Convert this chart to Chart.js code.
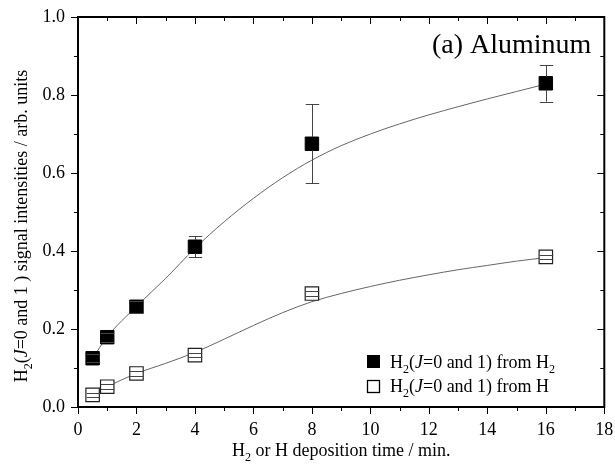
<!DOCTYPE html>
<html>
<head>
<meta charset="utf-8">
<script src="https://cdn.jsdelivr.net/npm/chart.js@4.4.1/dist/chart.umd.min.js"></script>
<style>
    html, body { margin: 0; padding: 0; background: #fff; }
    #wrap { width: 615px; height: 468px; }
</style>
</head>
<body>
<div id="wrap"><canvas id="chart" width="615" height="468"></canvas></div>
<script>
'use strict';

// measured points (deposition time in min)
var depTimes = [0.5, 1, 2, 4, 8, 16];
var fromH2 = [0.125, 0.179, 0.257, 0.411, 0.675, 0.830];
var fromH2Err = [0.010, 0.012, 0.015, 0.027, 0.101, 0.047];
var fromH = [0.031, 0.052, 0.086, 0.133, 0.291, 0.385];
var fromHErr = [0.006, 0.006, 0.006, 0.006, 0.006, 0.006];

// fitted curves
var fitTimes = [0.5, 1, 2, 3, 4, 5, 6, 7, 8, 9, 10, 11, 12, 13, 14, 15, 16];
var fitH2 = [0.125, 0.180, 0.258, 0.330, 0.407, 0.475, 0.535, 0.588, 0.633, 0.670, 0.700, 0.726, 0.749, 0.770, 0.790, 0.809, 0.828];
var fitH = [0.032, 0.052, 0.086, 0.112, 0.140, 0.174, 0.209, 0.242, 0.270, 0.291, 0.309, 0.325, 0.339, 0.352, 0.363, 0.374, 0.383];

// axes
var xMin = 0, xMax = 18, xStep = 2, xMinorStep = 1;
var yMin = 0, yMax = 1, yStep = 0.2, yMinorStep = 0.1;

// texts, as [piece, style] ; style: '' normal, 'sub' subscript, 'i' italic
var panelTitle = '(a) Aluminum';
var xTitle = [['H', ''], ['2', 'sub'], [' or H deposition time / min.', '']];
var yTitle = [['H', ''], ['2', 'sub'], ['(', ''], ['J', 'i'], ['=0 and 1 ) signal intensities / arb. units', '']];
var legendH2 = [['H', ''], ['2', 'sub'], ['(', ''], ['J', 'i'], ['=0 and 1) from H', ''], ['2', 'sub']];
var legendH = [['H', ''], ['2', 'sub'], ['(', ''], ['J', 'i'], ['=0 and 1) from H', '']];

var FONT = '"Liberation Serif", "Times New Roman", serif';
var MARK = 9.5;

function toXY(xs, ys) {
    return xs.map(function (x, i) { return { x: x, y: ys[i] }; });
}

function richFont(style, size) {
    if (style === 'sub') return Math.round(size * 0.68) + 'px ' + FONT;
    if (style === 'i') return 'italic ' + size + 'px ' + FONT;
    return size + 'px ' + FONT;
}

function richWidth(ctx, parts, size) {
    var w = 0;
    parts.forEach(function (p) {
        ctx.font = richFont(p[1], size);
        w += ctx.measureText(p[0]).width;
    });
    return w;
}

// draws text pieces from x along baseline y, align 'left' | 'center' | 'right'
function drawRich(ctx, parts, x, y, size, align) {
    var w = richWidth(ctx, parts, size);
    var cx = x;
    if (align === 'center') cx = x - w / 2;
    else if (align === 'right') cx = x - w;
    ctx.textAlign = 'left';
    ctx.textBaseline = 'alphabetic';
    parts.forEach(function (p) {
        ctx.font = richFont(p[1], size);
        var dy = p[1] === 'sub' ? size * 0.28 : 0;
        ctx.fillText(p[0], cx, y + dy);
        cx += ctx.measureText(p[0]).width;
    });
}

var errorBarsPlugin = {
    id: 'errorBars',
    afterDatasetsDraw: function (chart) {
        var ctx = chart.ctx;
        var xs = chart.scales.x, ys = chart.scales.y;
        var sets = [[fromH2, fromH2Err], [fromH, fromHErr]];
        var half = MARK * Math.SQRT1_2;
        ctx.save();
        ctx.strokeStyle = '#444';
        ctx.lineWidth = 1;
        sets.forEach(function (s) {
            depTimes.forEach(function (t, i) {
                var px = Math.round(xs.getPixelForValue(t)) + 0.5;
                var py = ys.getPixelForValue(s[0][i]);
                var top = ys.getPixelForValue(s[0][i] + s[1][i]);
                var bot = ys.getPixelForValue(s[0][i] - s[1][i]);
                ctx.beginPath();
                if (py - top > half) { ctx.moveTo(px, top); ctx.lineTo(px, py - half); }
                if (bot - py > half) { ctx.moveTo(px, py + half); ctx.lineTo(px, bot); }
                ctx.moveTo(px - half, Math.round(top) + 0.5); ctx.lineTo(px + half, Math.round(top) + 0.5);
                ctx.moveTo(px - half, Math.round(bot) + 0.5); ctx.lineTo(px + half, Math.round(bot) + 0.5);
                ctx.stroke();
            });
        });
        ctx.restore();
    }
};

var framePlugin = {
    id: 'frame',
    afterDraw: function (chart) {
        var ctx = chart.ctx;
        var a = chart.chartArea;
        var xs = chart.scales.x, ys = chart.scales.y;
        ctx.save();
        ctx.strokeStyle = '#000';
        ctx.lineWidth = 1;
        ctx.beginPath();
        var v, p, len;
        for (v = xMin; v <= xMax + 1e-9; v += xMinorStep) {
            p = Math.round(xs.getPixelForValue(v)) + 0.5;
            len = (Math.abs(v / xStep - Math.round(v / xStep)) < 1e-6) ? 7 : 4;
            ctx.moveTo(p, a.bottom); ctx.lineTo(p, a.bottom + len);
            ctx.moveTo(p, a.top); ctx.lineTo(p, a.top + len);
        }
        for (v = yMin; v <= yMax + 1e-9; v += yMinorStep) {
            p = Math.round(ys.getPixelForValue(v)) + 0.5;
            len = (Math.abs(v / yStep - Math.round(v / yStep)) < 1e-6) ? 7 : 4;
            ctx.moveTo(a.left, p); ctx.lineTo(a.left - len, p);
            ctx.moveTo(a.right, p); ctx.lineTo(a.right - len, p);
        }
        ctx.stroke();
        ctx.lineWidth = 2;
        ctx.strokeRect(a.left, a.top, a.right - a.left, a.bottom - a.top);

        ctx.fillStyle = '#000';
        // panel title
        ctx.font = '28px ' + FONT;
        ctx.textAlign = 'right';
        ctx.textBaseline = 'alphabetic';
        ctx.fillText(panelTitle, a.right - 13, a.top + 36);

        // axis titles
        drawRich(ctx, xTitle, (a.left + a.right) / 2, 456, 18, 'center');
        ctx.save();
        ctx.translate(27, (a.top + a.bottom) / 2 + 14);
        ctx.rotate(-Math.PI / 2);
        drawRich(ctx, yTitle, 0, 0, 18, 'center');
        ctx.restore();

        // legend
        ctx.lineWidth = 1.3;
        ctx.fillRect(367, 355, 13, 13);
        ctx.strokeRect(367.5, 380.5, 12, 12);
        drawRich(ctx, legendH2, 390, 368, 18, 'left');
        drawRich(ctx, legendH, 390, 392, 18, 'left');
        ctx.restore();
    }
};

function noEdgePadding(s) {
    s.paddingLeft = 0;
    s.paddingRight = 0;
    s.paddingTop = 0;
    s.paddingBottom = 0;
}

var chart = new Chart(document.getElementById('chart'), {
    type: 'scatter',
    data: {
        datasets: [
            {
                type: 'line',
                data: toXY(fitTimes, fitH2),
                borderColor: '#666',
                borderWidth: 1,
                pointRadius: 0,
                cubicInterpolationMode: 'monotone',
                order: 3
            },
            {
                type: 'line',
                data: toXY(fitTimes, fitH),
                borderColor: '#666',
                borderWidth: 1,
                pointRadius: 0,
                cubicInterpolationMode: 'monotone',
                order: 3
            },
            {
                data: toXY(depTimes, fromH2),
                pointStyle: 'rect',
                pointRadius: MARK,
                backgroundColor: '#000',
                borderColor: '#000',
                borderWidth: 1,
                order: 1
            },
            {
                data: toXY(depTimes, fromH),
                pointStyle: 'rect',
                pointRadius: MARK,
                backgroundColor: '#fff',
                borderColor: '#222',
                borderWidth: 1.2,
                order: 1
            }
        ]
    },
    options: {
        responsive: false,
        animation: false,
        layout: { padding: { left: 0, right: 9, top: 17, bottom: 0 } },
        plugins: {
            legend: { display: false },
            tooltip: { enabled: false }
        },
        scales: {
            x: {
                type: 'linear',
                min: xMin,
                max: xMax,
                afterFit: function (s) { s.height = 61; noEdgePadding(s); },
                grid: { display: false, drawTicks: false },
                border: { display: false },
                ticks: {
                    stepSize: xStep,
                    padding: 12,
                    color: '#000',
                    maxRotation: 0,
                    font: { family: FONT, size: 18 }
                }
            },
            y: {
                type: 'linear',
                min: yMin,
                max: yMax,
                afterFit: function (s) { s.width = 78; noEdgePadding(s); },
                grid: { display: false, drawTicks: false },
                border: { display: false },
                ticks: {
                    stepSize: yStep,
                    padding: 13,
                    color: '#000',
                    font: { family: FONT, size: 18 },
                    callback: function (v) { return v.toFixed(1); }
                }
            }
        }
    },
    plugins: [errorBarsPlugin, framePlugin]
});
</script>
</body>
</html>
